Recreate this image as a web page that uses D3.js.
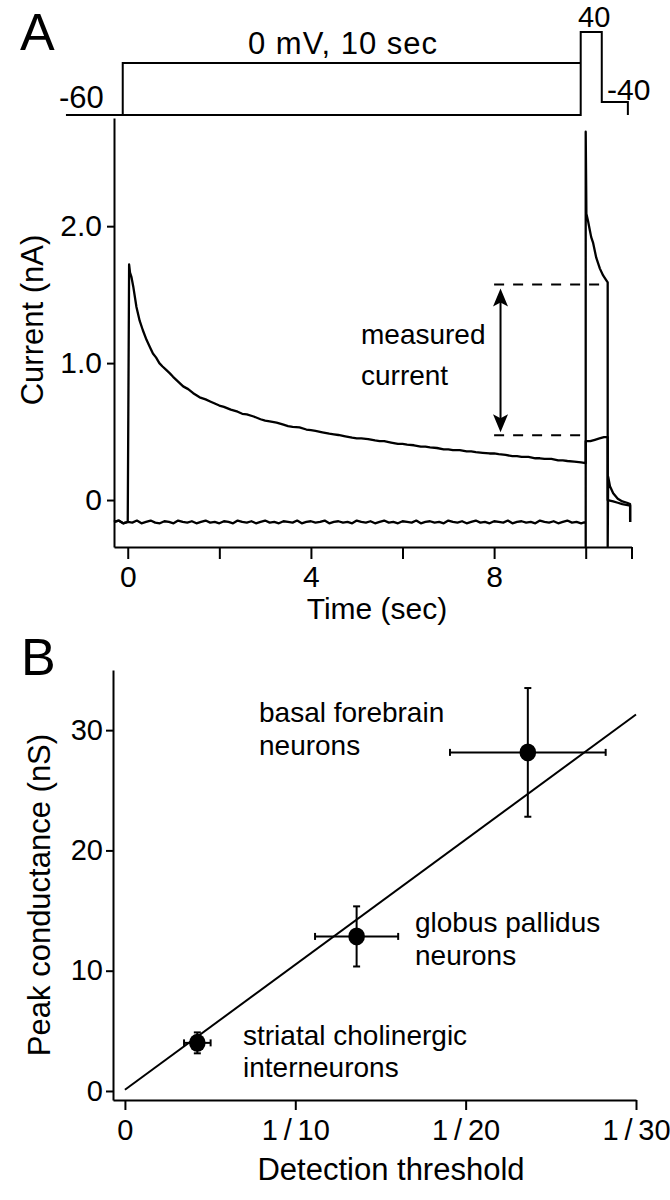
<!DOCTYPE html>
<html><head><meta charset="utf-8">
<script src="https://cdn.jsdelivr.net/npm/d3@7"></script>
<style>
body{margin:0;background:#fff}
text{font-family:"Liberation Sans",Arial,Helvetica,sans-serif;fill:#000}
</style>
</head><body>
<svg id="c" width="670" height="1200"></svg>
<script>
// ---------------- DATA ----------------
// Panel A: voltage protocol (time s, mV)
const protocolBottom = [[-1.24,-60],[10,-60],[10,40],[10.46,40],[10.46,-40],[11.03,-40],[11.03,-60]];
const protocolStep = [[0,-60],[0,0],[10,0]];
const protocolLabels = ["-60","0 mV, 10 sec","40","-40"];

// Panel A: current traces (time s, nA)
const traceControl = [
 [-0.3,-0.16],[-0.2,-0.15],[-0.1,-0.17],[0.0,-0.16],[0.1,-0.165],[0.2,-0.15],[0.3,-0.17],[0.4,-0.16],
 [0.5,-0.15],[0.6,-0.165],[0.7,-0.17],[0.8,-0.155],[0.9,-0.16],[1.0,-0.17],[1.1,-0.15],[1.2,-0.16],
 [1.3,-0.165],[1.4,-0.155],[1.5,-0.17],[1.6,-0.16],[1.7,-0.15],[1.8,-0.165],[1.9,-0.16],[2.0,-0.17],
 [2.1,-0.155],[2.2,-0.16],[2.3,-0.17],[2.4,-0.15],[2.5,-0.16],[2.6,-0.165],[2.7,-0.155],[2.8,-0.17],
 [2.9,-0.16],[3.0,-0.15],[3.1,-0.165],[3.2,-0.16],[3.3,-0.17],[3.4,-0.155],[3.5,-0.16],[3.6,-0.165],
 [3.7,-0.15],[3.8,-0.17],[3.9,-0.16],[4.0,-0.155],[4.1,-0.165],[4.2,-0.16],[4.3,-0.15],[4.4,-0.17],
 [4.5,-0.16],[4.6,-0.155],[4.7,-0.165],[4.8,-0.16],[4.9,-0.17],[5.0,-0.15],[5.1,-0.16],[5.2,-0.165],
 [5.3,-0.155],[5.4,-0.17],[5.5,-0.16],[5.6,-0.15],[5.7,-0.165],[5.8,-0.16],[5.9,-0.17],[6.0,-0.155],
 [6.1,-0.16],[6.2,-0.165],[6.3,-0.15],[6.4,-0.17],[6.5,-0.16],[6.6,-0.155],[6.7,-0.165],[6.8,-0.16],
 [6.9,-0.17],[7.0,-0.15],[7.1,-0.16],[7.2,-0.165],[7.3,-0.155],[7.4,-0.17],[7.5,-0.16],[7.6,-0.15],
 [7.7,-0.165],[7.8,-0.16],[7.9,-0.17],[8.0,-0.155],[8.1,-0.16],[8.2,-0.165],[8.3,-0.15],[8.4,-0.17],
 [8.5,-0.16],[8.6,-0.155],[8.7,-0.165],[8.8,-0.16],[8.9,-0.17],[9.0,-0.15],[9.1,-0.16],[9.2,-0.165],
 [9.3,-0.155],[9.4,-0.17],[9.5,-0.16],[9.6,-0.15],[9.7,-0.165],[9.8,-0.16],[9.9,-0.17],[10.0,-0.16],
 [10.0,-0.34],[10.0,2.69],[10.01,2.3],[10.015,2.09],[10.05,2.04],[10.09,1.97],[10.12,1.92],
 [10.16,1.88],[10.23,1.77],[10.31,1.69],[10.38,1.64],[10.44,1.61],[10.48,1.59],
 [10.48,-0.34],[10.49,0.17],[10.53,0.10],[10.6,0.05],[10.7,0.01],[10.8,-0.01],[10.9,-0.02],
 [10.97,-0.03],[10.97,-0.16]
];
const tracePrepulse = [
 [-0.3,-0.16],[-0.2,-0.15],[-0.1,-0.17],[0.0,-0.16],[0.03,1.72],[0.05,1.66],[0.08,1.63],
 [0.12,1.56],[0.19,1.41],[0.26,1.31],[0.33,1.24],[0.41,1.17],[0.48,1.12],[0.55,1.07],[0.62,1.04],
 [0.69,1.00],[0.76,0.975],[0.84,0.95],[0.92,0.925],[0.99,0.90],[1.1,0.865],[1.21,0.83],[1.32,0.81],
 [1.43,0.78],[1.5,0.765],[1.57,0.75],[1.7,0.735],[1.8,0.72],[1.9,0.705],[2.0,0.69],[2.1,0.68],
 [2.25,0.66],[2.4,0.645],[2.5,0.63],[2.6,0.625],[2.75,0.61],[2.9,0.59],[3.0,0.58],[3.1,0.575],
 [3.25,0.565],[3.4,0.55],[3.5,0.54],[3.6,0.535],[3.75,0.53],[3.9,0.515],[4.0,0.51],[4.1,0.505],
 [4.25,0.495],[4.4,0.485],[4.5,0.48],[4.6,0.475],[4.75,0.465],[4.9,0.455],[5.0,0.45],[5.1,0.45],
 [5.25,0.445],[5.4,0.435],[5.5,0.43],[5.6,0.43],[5.75,0.42],[5.9,0.41],[6.0,0.41],[6.1,0.405],
 [6.25,0.40],[6.4,0.39],[6.5,0.39],[6.6,0.385],[6.75,0.38],[6.9,0.37],[7.0,0.37],[7.1,0.365],
 [7.25,0.365],[7.4,0.355],[7.5,0.355],[7.6,0.35],[7.75,0.345],[7.9,0.34],[8.0,0.34],[8.1,0.335],
 [8.25,0.33],[8.4,0.32],[8.5,0.32],[8.6,0.315],[8.75,0.315],[8.9,0.305],[9.0,0.305],[9.1,0.30],
 [9.25,0.30],[9.4,0.29],[9.5,0.29],[9.6,0.285],[9.75,0.28],[9.9,0.275],[10.0,0.27],
 [10.0,0.43],[10.1,0.43],[10.2,0.44],[10.3,0.45],[10.4,0.46],[10.48,0.46],
 [10.48,0.0],[10.6,-0.01],[10.7,-0.02],[10.8,-0.03],[10.97,-0.04],[10.97,-0.16]
];
const measuredLevels = [0.474, 1.574];   // nA, dashed reference levels
const timeTicks = [0,2,4,6,8,10,11];
const timeTickLabels = ["0","","4","","8","",""];
const currentTicks = [0,1,2];
const currentTickLabels = ["0","1.0","2.0"];

// Panel B
const groupLabels = [["striatal cholinergic","interneurons"],["globus pallidus","neurons"],["basal forebrain","neurons"]];
const threshold = [4.25, 13.6, 23.65];
const thresholdErr = [0.78, 2.44, 4.57];
const conductance = [4.0, 12.85, 28.15];
const conductanceErr = [0.87, 2.5, 5.35];
const fitLine = [[0,0.1],[30,31.3]];
const thresholdTicks = [0,10,20,30];
const thresholdTickLabels = ["0","1\u2009/\u200910","1\u2009/\u200920","1\u2009/\u200930"];
const conductanceTicks = [0,10,20,30];

// ---------------- DRAW ----------------
const svg = d3.select("#c");
const ink = "#000";

function styleAxis(g, fs){
  g.attr("font-size", null).attr("font-family", null);
  g.select(".domain").attr("stroke", ink).attr("stroke-width", 2);
  g.selectAll(".tick line").attr("stroke", ink).attr("stroke-width", 2);
  g.selectAll(".tick text").attr("font-size", fs).attr("fill", ink);
}

// ---- Panel A ----
const xA = d3.scaleLinear().domain([-0.3, 11]).range([114, 631.5]);
const yA = d3.scaleLinear().domain([-0.343, 2.79]).range([547, 118]);
const vP = d3.scaleLinear().domain([-60,-40,0,40]).range([115,102,63,32]);

svg.append("text").attr("x",20).attr("y",50).attr("font-size",52).text("A");

const gP = svg.append("g").attr("transform","translate(-5,0)");
const lineP = d3.line().x(d=>xA(d[0])).y(d=>vP(d[1]));
gP.append("path").attr("d",lineP(protocolBottom)).attr("fill","none").attr("stroke",ink).attr("stroke-width",2);
gP.append("path").attr("d",lineP(protocolStep)).attr("fill","none").attr("stroke",ink).attr("stroke-width",2);
svg.append("text").attr("x",59).attr("y",108).attr("font-size",31).text(protocolLabels[0]);
svg.append("text").attr("x",343).attr("y",54).attr("text-anchor","middle").attr("font-size",31)
  .attr("letter-spacing",1).text(protocolLabels[1]);
svg.append("text").attr("x",578).attr("y",27).attr("font-size",29).text(protocolLabels[2]);
svg.append("text").attr("x",607).attr("y",100).attr("font-size",30).text(protocolLabels[3]);

// axes A
const gxA = svg.append("g").attr("transform","translate(0,547)")
  .call(d3.axisBottom(xA).tickValues(timeTicks).tickSize(12).tickSizeOuter(0).tickPadding(7)
    .tickFormat((d,i)=>timeTickLabels[i]));
styleAxis(gxA, 30);
const gyA = svg.append("g").attr("transform","translate(114,0)")
  .call(d3.axisLeft(yA).tickValues(currentTicks).tickSize(7).tickSizeOuter(0).tickPadding(5)
    .tickFormat((d,i)=>currentTickLabels[i]));
styleAxis(gyA, 30);

svg.append("text").attr("transform","translate(43,320) rotate(-90)").attr("text-anchor","middle")
  .attr("font-size",31).text("Current (nA)");
svg.append("text").attr("x",377).attr("y",619).attr("text-anchor","middle")
  .attr("font-size",30).text("Time (sec)");

// traces
const lineA = d3.line().x(d=>xA(d[0])).y(d=>yA(d[1]));
[traceControl, tracePrepulse].forEach(tr=>{
  svg.append("path").attr("d",lineA(tr)).attr("fill","none").attr("stroke",ink)
    .attr("stroke-width",2.3).attr("stroke-linejoin","round");
});

// dashed reference lines
svg.append("line").attr("x1",xA(8.0)).attr("x2",xA(10.48)).attr("y1",yA(measuredLevels[1])).attr("y2",yA(measuredLevels[1]))
  .attr("stroke",ink).attr("stroke-width",2).attr("stroke-dasharray","10,9");
svg.append("line").attr("x1",xA(8.0)).attr("x2",xA(10.0)).attr("y1",yA(measuredLevels[0])).attr("y2",yA(measuredLevels[0]))
  .attr("stroke",ink).attr("stroke-width",2).attr("stroke-dasharray","10,9");

// double arrow
const ax = xA(8.14), ay1 = yA(measuredLevels[1]) + 4, ay2 = yA(measuredLevels[0]) - 3;
svg.append("line").attr("x1",ax).attr("x2",ax).attr("y1",ay1+10).attr("y2",ay2-10).attr("stroke",ink).attr("stroke-width",2);
svg.append("path").attr("d",`M${ax},${ay1} L${ax+7.5},${ay1+18} L${ax},${ay1+14} L${ax-7.5},${ay1+18} Z`).attr("fill",ink);
svg.append("path").attr("d",`M${ax},${ay2} L${ax+7.5},${ay2-18} L${ax},${ay2-14} L${ax-7.5},${ay2-18} Z`).attr("fill",ink);
svg.append("text").attr("x",361).attr("y",344).attr("font-size",28).text("measured");
svg.append("text").attr("x",361).attr("y",385).attr("font-size",28).text("current");

// ---- Panel B ----
const xB = d3.scaleLinear().domain([-0.7, 30]).range([113, 636]);
const yB = d3.scaleLinear().domain([-0.75, 35]).range([1100, 670]);

svg.append("text").attr("x",21).attr("y",675).attr("font-size",52).text("B");

const gxB = svg.append("g").attr("transform","translate(0,1100)")
  .call(d3.axisBottom(xB).tickValues(thresholdTicks).tickSize(10).tickSizeOuter(0).tickPadding(9)
    .tickFormat((d,i)=>thresholdTickLabels[i]));
styleAxis(gxB, 29);
const gyB = svg.append("g").attr("transform","translate(113,0)")
  .call(d3.axisLeft(yB).tickValues(conductanceTicks).tickSize(7).tickSizeOuter(0).tickPadding(3));
styleAxis(gyB, 29);

svg.append("text").attr("transform","translate(50,895) rotate(-90)").attr("text-anchor","middle")
  .attr("font-size",31).text("Peak conductance (nS)");
svg.append("text").attr("x",391).attr("y",1180).attr("text-anchor","middle")
  .attr("font-size",31).text("Detection threshold");

// fit line
svg.append("line").attr("x1",xB(fitLine[0][0])).attr("y1",yB(fitLine[0][1]))
  .attr("x2",xB(fitLine[1][0])).attr("y2",yB(fitLine[1][1])).attr("stroke",ink).attr("stroke-width",2);

// points with error bars
const cap = 3.5;
threshold.forEach((xv,i)=>{
  const cx = xB(xv), cy = yB(conductance[i]);
  const g = svg.append("g");
  const xl = xB(xv - thresholdErr[i]), xr = xB(xv + thresholdErr[i]);
  const yt = yB(conductance[i] + conductanceErr[i]), yb = yB(conductance[i] - conductanceErr[i]);
  g.append("line").attr("x1",xl).attr("x2",xr).attr("y1",cy).attr("y2",cy).attr("stroke",ink).attr("stroke-width",2);
  g.append("line").attr("x1",xl).attr("x2",xl).attr("y1",cy-cap).attr("y2",cy+cap).attr("stroke",ink).attr("stroke-width",2);
  g.append("line").attr("x1",xr).attr("x2",xr).attr("y1",cy-cap).attr("y2",cy+cap).attr("stroke",ink).attr("stroke-width",2);
  g.append("line").attr("x1",cx).attr("x2",cx).attr("y1",yt).attr("y2",yb).attr("stroke",ink).attr("stroke-width",2);
  g.append("line").attr("x1",cx-cap).attr("x2",cx+cap).attr("y1",yt).attr("y2",yt).attr("stroke",ink).attr("stroke-width",2);
  g.append("line").attr("x1",cx-cap).attr("x2",cx+cap).attr("y1",yb).attr("y2",yb).attr("stroke",ink).attr("stroke-width",2);
  g.append("ellipse").attr("cx",cx).attr("cy",cy).attr("rx",8.3).attr("ry",9).attr("fill",ink);
});

// group labels
const labelPos = [[243,1045,1077],[415,932,965],[259,722,755]];
groupLabels.forEach((lines,i)=>{
  lines.forEach((s,j)=>{
    svg.append("text").attr("x",labelPos[i][0]).attr("y",labelPos[i][1+j]).attr("font-size",28).text(s);
  });
});
</script>
</body></html>
